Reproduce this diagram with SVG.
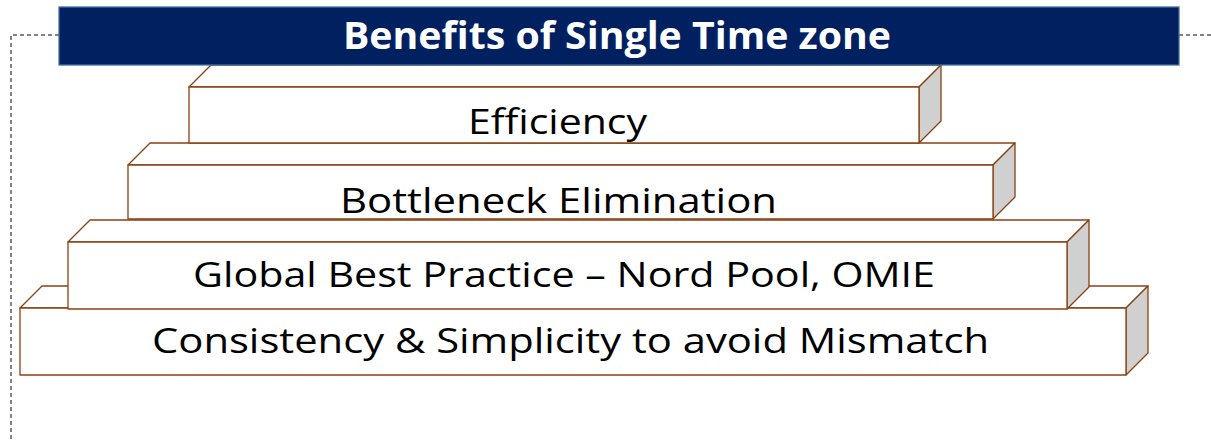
<svg xmlns="http://www.w3.org/2000/svg" width="1211" height="445" viewBox="0 0 1211 445">
  <style>
    .front { fill: #ffffff; stroke: #8a4212; stroke-width: 1.3; stroke-linejoin: round; }
    .top { fill: #ffffff; stroke: #8a4212; stroke-width: 1.3; stroke-linejoin: round; }
    .side { fill: #d0d0d0; stroke: #8a4212; stroke-width: 1.3; stroke-linejoin: round; }
    .label { font-family: "Open Sans", "Liberation Sans", sans-serif; font-size: 34.5px; fill: #000000; }
    .title { font-family: "Open Sans", "Liberation Sans", sans-serif; font-size: 38px; font-weight: bold; fill: #ffffff; }
    .frame { fill: none; stroke: #595959; stroke-width: 1.5; stroke-dasharray: 4 3; }
  </style>

  <!-- dashed bracket framing the stack -->
  <g id="connectors">
    <path class="frame" d="M59 35 H11 V442"/>
    <path class="frame" d="M1179 35 H1211"/>
  </g>

  <!-- bottom step -->
  <g id="step-consistency">
    <polygon class="top" points="20,308 42,286 1148,286 1126,308"/>
    <polygon class="side" points="1126,308 1148,286 1148,353 1126,375"/>
    <rect class="front" x="20" y="308" width="1106" height="67"/>
    <text class="label" x="152" y="352.5" textLength="837" lengthAdjust="spacingAndGlyphs">Consistency &amp; Simplicity to avoid Mismatch</text>
  </g>

  <g id="step-global">
    <polygon class="top" points="68,242 90,220 1089,220 1067,242"/>
    <polygon class="side" points="1067,242 1089,220 1089,287 1067,309"/>
    <rect class="front" x="68" y="242" width="999" height="67"/>
    <text class="label" x="193" y="287" textLength="742" lengthAdjust="spacingAndGlyphs">Global Best Practice – Nord Pool, OMIE</text>
  </g>

  <g id="step-bottleneck">
    <polygon class="top" points="128,165 150,143 1015,143 993,165"/>
    <polygon class="side" points="993,165 1015,143 1015,197 993,219"/>
    <rect class="front" x="128" y="165" width="865" height="54"/>
    <text class="label" x="340" y="212.5" textLength="437" lengthAdjust="spacingAndGlyphs">Bottleneck Elimination</text>
  </g>

  <g id="step-efficiency">
    <polygon class="top" points="189,87 211,65 941,65 919,87"/>
    <polygon class="side" points="919,87 941,65 941,121 919,143"/>
    <rect class="front" x="189" y="87" width="730" height="56"/>
    <text class="label" x="468" y="134" textLength="179" lengthAdjust="spacingAndGlyphs">Efficiency</text>
  </g>

  <!-- heading banner -->
  <g id="title">
    <rect x="59" y="7" width="1120" height="58" fill="#002060" stroke="#41719c" stroke-width="1.3"/>
    <text class="title" x="343" y="49" textLength="548" lengthAdjust="spacingAndGlyphs">Benefits of Single Time zone</text>
  </g>
</svg>
